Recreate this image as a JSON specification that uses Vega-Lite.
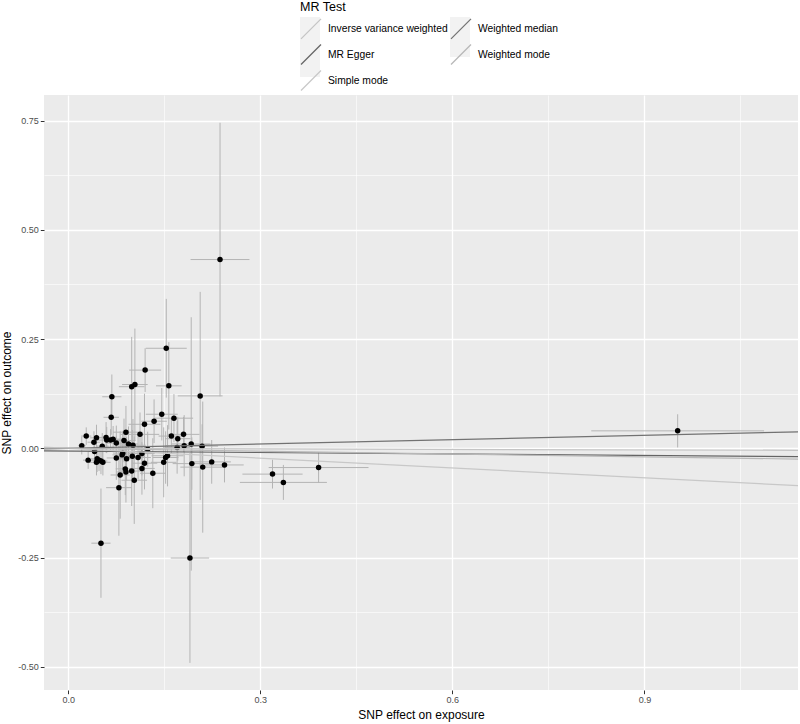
{
  "$schema": "https://vega.github.io/schema/vega-lite/v6.json",
  "width": 754,
  "height": 595,
  "autosize": "none",
  "padding": {"left": 44, "top": 95, "right": 2, "bottom": 34},
  "background": "white",
  "config": {
    "view": {"stroke": null, "fill": "#ebebeb"},
    "font": "Liberation Sans"
  },
  "datasets": {
    "pts": [
      {"bx":0.153,"by":0.229,"xlo":0.121,"xhi":0.185,"ylo":0.116,"yhi":0.342},
      {"bx":0.120,"by":0.179,"xlo":0.095,"xhi":0.145,"ylo":0.129,"yhi":0.229},
      {"bx":0.099,"by":0.141,"xlo":0.079,"xhi":0.119,"ylo":0.027,"yhi":0.255},
      {"bx":0.104,"by":0.146,"xlo":0.084,"xhi":0.124,"ylo":0.018,"yhi":0.274},
      {"bx":0.157,"by":0.143,"xlo":0.137,"xhi":0.177,"ylo":0.043,"yhi":0.243},
      {"bx":0.068,"by":0.118,"xlo":0.053,"xhi":0.083,"ylo":0.067,"yhi":0.169},
      {"bx":0.206,"by":0.120,"xlo":0.171,"xhi":0.241,"ylo":-0.118,"yhi":0.358},
      {"bx":0.146,"by":0.078,"xlo":0.121,"xhi":0.171,"ylo":0.018,"yhi":0.138},
      {"bx":0.165,"by":0.069,"xlo":0.135,"xhi":0.195,"ylo":0.014,"yhi":0.124},
      {"bx":0.067,"by":0.071,"xlo":0.055,"xhi":0.079,"ylo":0.031,"yhi":0.111},
      {"bx":0.134,"by":0.062,"xlo":0.114,"xhi":0.154,"ylo":0.012,"yhi":0.112},
      {"bx":0.119,"by":0.055,"xlo":0.094,"xhi":0.144,"ylo":-0.015,"yhi":0.125},
      {"bx":0.090,"by":0.037,"xlo":0.070,"xhi":0.110,"ylo":-0.023,"yhi":0.097},
      {"bx":0.112,"by":0.032,"xlo":0.082,"xhi":0.142,"ylo":-0.018,"yhi":0.082},
      {"bx":0.161,"by":0.028,"xlo":0.141,"xhi":0.181,"ylo":-0.012,"yhi":0.068},
      {"bx":0.180,"by":0.032,"xlo":0.155,"xhi":0.205,"ylo":-0.008,"yhi":0.072},
      {"bx":0.171,"by":0.022,"xlo":0.151,"xhi":0.191,"ylo":-0.028,"yhi":0.072},
      {"bx":0.028,"by":0.028,"xlo":0.020,"xhi":0.036,"ylo":0.008,"yhi":0.048},
      {"bx":0.044,"by":0.024,"xlo":0.034,"xhi":0.054,"ylo":-0.006,"yhi":0.054},
      {"bx":0.059,"by":0.025,"xlo":0.047,"xhi":0.071,"ylo":-0.010,"yhi":0.060},
      {"bx":0.060,"by":0.019,"xlo":0.045,"xhi":0.075,"ylo":-0.011,"yhi":0.049},
      {"bx":0.066,"by":0.019,"xlo":0.054,"xhi":0.078,"ylo":-0.006,"yhi":0.044},
      {"bx":0.070,"by":0.021,"xlo":0.058,"xhi":0.082,"ylo":-0.009,"yhi":0.051},
      {"bx":0.040,"by":0.014,"xlo":0.030,"xhi":0.050,"ylo":-0.011,"yhi":0.039},
      {"bx":0.075,"by":0.012,"xlo":0.060,"xhi":0.090,"ylo":-0.028,"yhi":0.052},
      {"bx":0.087,"by":0.018,"xlo":0.069,"xhi":0.105,"ylo":-0.032,"yhi":0.068},
      {"bx":0.094,"by":0.010,"xlo":0.079,"xhi":0.109,"ylo":-0.030,"yhi":0.050},
      {"bx":0.101,"by":0.007,"xlo":0.081,"xhi":0.121,"ylo":-0.053,"yhi":0.067},
      {"bx":0.021,"by":0.006,"xlo":0.015,"xhi":0.027,"ylo":-0.014,"yhi":0.026},
      {"bx":0.053,"by":0.005,"xlo":0.043,"xhi":0.063,"ylo":-0.025,"yhi":0.035},
      {"bx":0.181,"by":0.006,"xlo":0.151,"xhi":0.211,"ylo":-0.064,"yhi":0.076},
      {"bx":0.192,"by":0.010,"xlo":0.162,"xhi":0.222,"ylo":-0.280,"yhi":0.300},
      {"bx":0.170,"by":0.002,"xlo":0.150,"xhi":0.190,"ylo":-0.058,"yhi":0.062},
      {"bx":0.209,"by":0.005,"xlo":0.184,"xhi":0.234,"ylo":-0.045,"yhi":0.055},
      {"bx":0.124,"by":-0.002,"xlo":0.104,"xhi":0.144,"ylo":-0.042,"yhi":0.038},
      {"bx":0.041,"by":-0.007,"xlo":0.031,"xhi":0.051,"ylo":-0.037,"yhi":0.023},
      {"bx":0.085,"by":-0.011,"xlo":0.070,"xhi":0.100,"ylo":-0.061,"yhi":0.039},
      {"bx":0.031,"by":-0.027,"xlo":0.023,"xhi":0.039,"ylo":-0.047,"yhi":-0.007},
      {"bx":0.045,"by":-0.024,"xlo":0.035,"xhi":0.055,"ylo":-0.054,"yhi":0.006},
      {"bx":0.048,"by":-0.027,"xlo":0.038,"xhi":0.058,"ylo":-0.052,"yhi":-0.002},
      {"bx":0.051,"by":-0.029,"xlo":0.041,"xhi":0.061,"ylo":-0.059,"yhi":0.001},
      {"bx":0.054,"by":-0.032,"xlo":0.042,"xhi":0.066,"ylo":-0.062,"yhi":-0.002},
      {"bx":0.044,"by":-0.032,"xlo":0.034,"xhi":0.054,"ylo":-0.062,"yhi":-0.002},
      {"bx":0.075,"by":-0.022,"xlo":0.060,"xhi":0.090,"ylo":-0.072,"yhi":0.028},
      {"bx":0.084,"by":-0.015,"xlo":0.069,"xhi":0.099,"ylo":-0.055,"yhi":0.025},
      {"bx":0.091,"by":-0.024,"xlo":0.076,"xhi":0.106,"ylo":-0.074,"yhi":0.026},
      {"bx":0.100,"by":-0.018,"xlo":0.080,"xhi":0.120,"ylo":-0.078,"yhi":0.042},
      {"bx":0.109,"by":-0.021,"xlo":0.089,"xhi":0.129,"ylo":-0.071,"yhi":0.029},
      {"bx":0.115,"by":-0.012,"xlo":0.095,"xhi":0.135,"ylo":-0.062,"yhi":0.038},
      {"bx":0.119,"by":-0.034,"xlo":0.099,"xhi":0.139,"ylo":-0.094,"yhi":0.026},
      {"bx":0.152,"by":-0.021,"xlo":0.132,"xhi":0.172,"ylo":-0.081,"yhi":0.039},
      {"bx":0.155,"by":-0.017,"xlo":0.130,"xhi":0.180,"ylo":-0.087,"yhi":0.053},
      {"bx":0.149,"by":-0.032,"xlo":0.129,"xhi":0.169,"ylo":-0.112,"yhi":0.048},
      {"bx":0.089,"by":-0.047,"xlo":0.074,"xhi":0.104,"ylo":-0.107,"yhi":0.013},
      {"bx":0.099,"by":-0.052,"xlo":0.079,"xhi":0.119,"ylo":-0.132,"yhi":0.028},
      {"bx":0.090,"by":-0.054,"xlo":0.075,"xhi":0.105,"ylo":-0.124,"yhi":0.016},
      {"bx":0.115,"by":-0.046,"xlo":0.095,"xhi":0.135,"ylo":-0.106,"yhi":0.014},
      {"bx":0.081,"by":-0.061,"xlo":0.066,"xhi":0.096,"ylo":-0.161,"yhi":0.039},
      {"bx":0.103,"by":-0.073,"xlo":0.083,"xhi":0.123,"ylo":-0.173,"yhi":0.027},
      {"bx":0.132,"by":-0.057,"xlo":0.112,"xhi":0.152,"ylo":-0.137,"yhi":0.023},
      {"bx":0.079,"by":-0.090,"xlo":0.059,"xhi":0.099,"ylo":-0.200,"yhi":0.020},
      {"bx":0.193,"by":-0.035,"xlo":0.163,"xhi":0.223,"ylo":-0.095,"yhi":0.025},
      {"bx":0.210,"by":-0.043,"xlo":0.175,"xhi":0.245,"ylo":-0.193,"yhi":0.107},
      {"bx":0.224,"by":-0.031,"xlo":0.194,"xhi":0.254,"ylo":-0.081,"yhi":0.019},
      {"bx":0.244,"by":-0.038,"xlo":0.214,"xhi":0.274,"ylo":-0.078,"yhi":0.002},
      {"bx":0.237,"by":0.432,"xlo":0.191,"xhi":0.283,"ylo":0.119,"yhi":0.745},
      {"bx":0.190,"by":-0.251,"xlo":0.160,"xhi":0.220,"ylo":-0.491,"yhi":-0.011},
      {"bx":0.051,"by":-0.217,"xlo":0.036,"xhi":0.066,"ylo":-0.342,"yhi":-0.092},
      {"bx":0.319,"by":-0.059,"xlo":0.272,"xhi":0.366,"ylo":-0.092,"yhi":-0.026},
      {"bx":0.336,"by":-0.078,"xlo":0.268,"xhi":0.404,"ylo":-0.118,"yhi":-0.038},
      {"bx":0.391,"by":-0.044,"xlo":0.313,"xhi":0.469,"ylo":-0.079,"yhi":-0.009},
      {"bx":0.952,"by":0.040,"xlo":0.817,"xhi":1.087,"ylo":0.002,"yhi":0.078}
    ],
    "lines": [
      {"method":"Inverse variance weighted","key":"k1","x0":-0.038,"y0":0.00015,"x1":1.14,"y1":-0.00456},
      {"method":"MR Egger","key":"k2","x0":-0.038,"y0":-0.0059,"x1":1.14,"y1":-0.0188},
      {"method":"Simple mode","key":"k3","x0":-0.038,"y0":0.00285,"x1":1.14,"y1":-0.0855},
      {"method":"Weighted median","key":"k4","x0":-0.038,"y0":-0.00125,"x1":1.14,"y1":0.0376},
      {"method":"Weighted mode","key":"k5","x0":-0.038,"y0":0.0008,"x1":1.14,"y1":-0.0245}
    ]
  },
  "layer": [
    {
      "data": {"name": "lines"},
      "mark": {"type": "rule", "strokeWidth": 0},
      "encoding": {
        "x": {"field": "x0", "type": "quantitative", "title": "SNP effect on exposure",
              "scale": {"domain": [-0.038, 1.14], "nice": false, "zero": false},
              "axis": {"orient": "bottom", "values": [0.15, 0.45, 0.75, 1.05], "grid": true, "gridColor": "white", "gridWidth": 0.6, "labels": false, "ticks": false, "domain": false, "title": null}},
        "y": {"field": "y0", "type": "quantitative", "title": "SNP effect on outcome",
              "scale": {"domain": [-0.553, 0.8085], "nice": false, "zero": false},
              "axis": {"orient": "left", "values": [-0.375, -0.125, 0.125, 0.375, 0.625], "grid": true, "gridColor": "white", "gridWidth": 0.6, "labels": false, "ticks": false, "domain": false, "title": null}},
        "fill": {"field": "key", "type": "nominal",
                 "scale": {"domain": ["k1","k2","k3","k4","k5"], "range": ["#f2f2f2","#f2f2f2","#f2f2f2","#f2f2f2","#f2f2f2"]},
                 "legend": {"title": null, "orient": "none", "legendX": 256, "legendY": -78, "columns": 2, "symbolType": "square", "symbolSize": 400, "symbolStrokeWidth": 0, "symbolStrokeColor": "transparent", "labelExpr": "''", "labelOffset": 0, "rowPadding": 0, "columnPadding": 130, "zindex": 1,
                            "encode": {"symbols": {"update": {"fill": {"value": "#f2f2f2"}, "stroke": {"value": "transparent"}, "opacity": {"value": 1}}}}}}
      }
    },
    {
      "layer": [
        {
          "data": {"name": "pts"},
          "mark": {"type": "rule", "color": "#b4b4b4", "strokeWidth": 1},
          "encoding": {
            "x": {"field": "bx", "type": "quantitative", "title": "SNP effect on exposure",
                  "scale": {"domain": [-0.038, 1.14], "nice": false, "zero": false},
                  "axis": {"orient": "bottom", "values": [0, 0.3, 0.6, 0.9], "format": ".1f", "grid": true, "gridColor": "white", "gridWidth": 1.3, "domain": false, "tickColor": "#333333", "tickSize": 3.7, "tickWidth": 1, "labelColor": "#4d4d4d", "labelFontSize": 9, "labelPadding": 2, "titleFontSize": 12, "titleFontWeight": "normal", "titleColor": "black", "titlePadding": 5}},
            "y": {"field": "ylo", "type": "quantitative", "title": "SNP effect on outcome",
                  "scale": {"domain": [-0.553, 0.8085], "nice": false, "zero": false},
                  "axis": {"orient": "left", "values": [-0.5, -0.25, 0, 0.25, 0.5, 0.75], "labelExpr": "replace(format(datum.value, '.2f'), '\u2212', '-')", "grid": true, "gridColor": "white", "gridWidth": 1.3, "domain": false, "tickColor": "#333333", "tickSize": 3.7, "tickWidth": 1, "labelColor": "#4d4d4d", "labelFontSize": 9, "labelPadding": 2, "titleFontSize": 12, "titleFontWeight": "normal", "titleColor": "black", "titlePadding": 4}},
            "y2": {"field": "yhi"}
          }
        },
        {
          "data": {"name": "pts"},
          "mark": {"type": "rule", "color": "#b4b4b4", "strokeWidth": 1},
          "encoding": {
            "x": {"field": "xlo", "type": "quantitative", "title": "SNP effect on exposure"},
            "x2": {"field": "xhi"},
            "y": {"field": "by", "type": "quantitative", "title": "SNP effect on outcome"}
          }
        },
        {
          "data": {"name": "pts"},
          "mark": {"type": "circle", "size": 30, "color": "black", "opacity": 1},
          "encoding": {
            "x": {"field": "bx", "type": "quantitative", "title": "SNP effect on exposure"},
            "y": {"field": "by", "type": "quantitative", "title": "SNP effect on outcome"}
          }
        },
        {
          "data": {"name": "lines"},
          "mark": {"type": "rule", "strokeWidth": 1.2, "clip": true},
          "encoding": {
            "x": {"field": "x0", "type": "quantitative", "title": "SNP effect on exposure"},
            "y": {"field": "y0", "type": "quantitative", "title": "SNP effect on outcome"},
            "x2": {"field": "x1"},
            "y2": {"field": "y1"},
            "color": {"field": "method", "type": "nominal",
                      "scale": {"domain": ["Inverse variance weighted","MR Egger","Simple mode","Weighted median","Weighted mode"], "range": ["#c4c4c4","#646464","#c8c8c8","#727272","#b7b7b7"]},
                      "legend": {"title": "MR Test", "orient": "none", "legendX": 256, "legendY": -94, "columns": 2, "symbolType": "M-1,1L1,-1", "symbolSize": 400, "symbolStrokeWidth": 1.2, "symbolFillColor": "transparent", "labelFontSize": 10.3, "titleFontSize": 12.5, "titleFontWeight": "normal", "titleColor": "black", "labelColor": "black", "rowPadding": 0, "columnPadding": 0, "labelOffset": 6, "titlePadding": 4, "zindex": 2}}
          }
        }
      ]
    }
  ],
  "resolve": {"axis": {"x": "independent", "y": "independent"}}
}
